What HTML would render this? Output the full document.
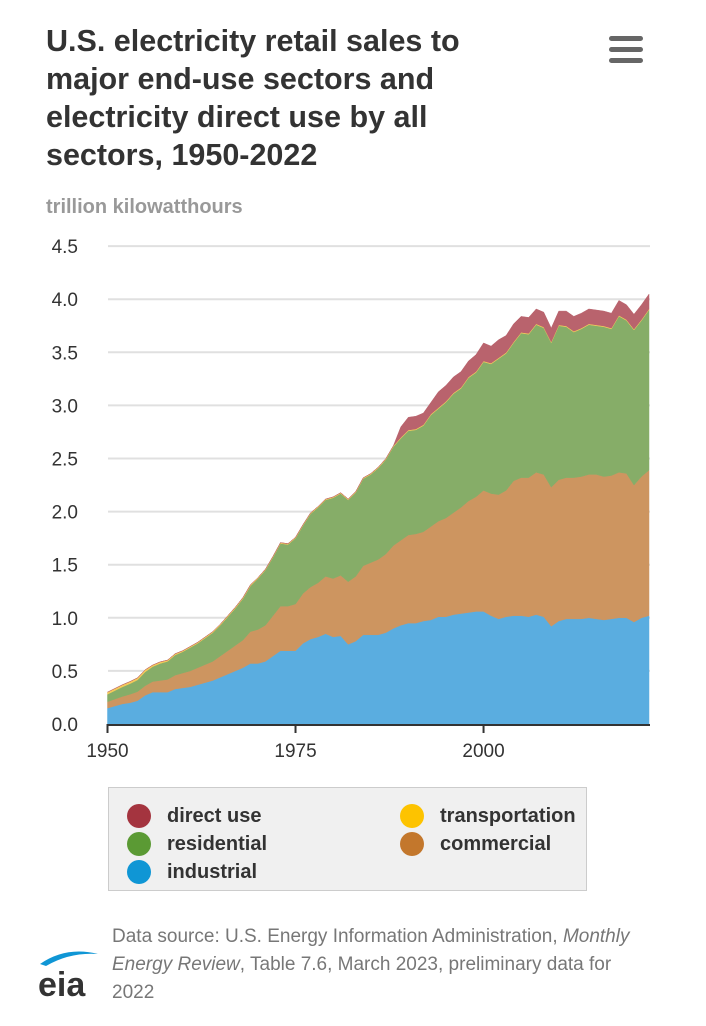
<!DOCTYPE html>
<html><head><meta charset="utf-8"><style>
body{margin:0;width:706px;height:1026px;background:#fff;font-family:"Liberation Sans",sans-serif;position:relative;overflow:hidden}
#title{position:absolute;left:46px;top:22px;font-size:30.5px;font-weight:bold;line-height:38px;color:#333;white-space:nowrap}
#sub{position:absolute;left:46px;top:196px;font-size:20px;font-weight:bold;color:#999}
#menu{position:absolute;left:609px;top:36px;width:34px;height:28px}
#menu div{height:5px;background:#666;border-radius:3px;margin-bottom:6px}
#legend{position:absolute;left:108px;top:787px;width:479px;height:104px;background:#f0f0f0;border:1px solid #ccc;box-sizing:border-box}
.li{position:absolute;font-size:20px;font-weight:bold;color:#333}
.li span{position:absolute;left:-40px;top:-1px;width:24px;height:24px;border-radius:50%}
#src{position:absolute;left:112px;top:923px;font-size:19px;line-height:28px;color:#777;white-space:nowrap}
</style></head><body>
<div id="title">U.S. electricity retail sales to<br>major end-use sectors and<br>electricity direct use by all<br>sectors, 1950-2022</div>
<div id="sub">trillion kilowatthours</div>
<div id="menu"><div></div><div></div><div></div></div>
<svg id="chart" width="706" height="780" style="position:absolute;left:0;top:0"></svg>
<div id="legend">
<div class="li" style="left:58px;top:17px"><span style="background:#a4343f"></span>direct use</div>
<div class="li" style="left:331px;top:17px"><span style="background:#fdc300"></span>transportation</div>
<div class="li" style="left:58px;top:45px"><span style="background:#5b9a34"></span>residential</div>
<div class="li" style="left:331px;top:45px"><span style="background:#c3772c"></span>commercial</div>
<div class="li" style="left:58px;top:73px"><span style="background:#0f96d5"></span>industrial</div>
</div>
<div id="src">Data source: U.S. Energy Information Administration, <i>Monthly</i><br><i>Energy Review</i>, Table 7.6, March 2023, preliminary data for<br>2022</div>
<svg width="70" height="60" style="position:absolute;left:36px;top:946px">
<path d="M4 18 Q30 0 62 8 Q34 6 10 20Z" fill="#0f96d5"/>
<text x="2" y="50" font-family="Liberation Sans,sans-serif" font-size="34" font-weight="bold" fill="#333">eia</text>
</svg>
<script>
const years=[];for(let y=1950;y<=2022;y++)years.push(y);
const industrial=[.15,.17,.19,.20,.22,.27,.30,.30,.30,.33,.34,.35,.37,.39,.41,.44,.47,.50,.53,.57,.57,.59,.64,.69,.69,.69,.76,.80,.82,.85,.82,.83,.75,.78,.84,.84,.84,.86,.90,.93,.95,.95,.97,.98,1.01,1.01,1.03,1.04,1.05,1.06,1.06,1.02,.99,1.01,1.02,1.02,1.01,1.03,1.01,.92,.97,.99,.99,.99,1.00,.99,.98,.99,1.00,1.00,.96,1.00,1.02];
const commercial=[.06,.065,.07,.08,.085,.09,.10,.11,.12,.13,.14,.15,.16,.17,.18,.20,.22,.24,.26,.30,.32,.34,.38,.42,.42,.44,.47,.49,.51,.54,.55,.57,.59,.61,.65,.68,.71,.74,.78,.80,.83,.84,.84,.88,.90,.93,.96,1.00,1.05,1.08,1.14,1.15,1.17,1.19,1.27,1.30,1.31,1.34,1.34,1.31,1.33,1.33,1.33,1.34,1.35,1.36,1.35,1.35,1.37,1.36,1.29,1.33,1.37];
const residential=[.07,.08,.09,.10,.11,.13,.14,.16,.17,.19,.20,.22,.23,.25,.27,.29,.32,.35,.39,.43,.48,.52,.55,.59,.58,.62,.64,.69,.71,.72,.76,.77,.77,.79,.82,.83,.86,.89,.93,.96,.98,.98,1.00,1.05,1.06,1.09,1.12,1.12,1.16,1.17,1.21,1.22,1.28,1.29,1.30,1.36,1.35,1.39,1.38,1.36,1.45,1.42,1.37,1.39,1.41,1.40,1.41,1.38,1.47,1.44,1.46,1.47,1.51];
const transportation=[.02,.02,.02,.02,.02,.02,.015,.015,.012,.012,.01,.01,.01,.01,.01,.01,.01,.01,.01,.01,.008,.008,.008,.008,.008,.008,.008,.008,.008,.008,.008,.008,.008,.008,.008,.008,.008,.008,.008,.008,.008,.008,.008,.008,.008,.008,.008,.008,.008,.008,.008,.008,.008,.008,.008,.008,.008,.008,.008,.008,.008,.008,.008,.008,.008,.008,.008,.008,.008,.008,.008,.008,.008];
const directUse=[0,0,0,0,0,0,0,0,0,0,0,0,0,0,0,0,0,0,0,0,0,0,0,0,0,0,0,0,0,0,0,0,0,0,0,0,0,0,0,.10,.12,.12,.11,.11,.15,.15,.15,.15,.15,.16,.17,.16,.17,.16,.17,.15,.15,.14,.14,.13,.13,.14,.14,.14,.14,.14,.14,.14,.14,.14,.14,.14,.14];
const yTicks=[0,0.5,1,1.5,2,2.5,3,3.5,4,4.5];
const xTicks=[1950,1975,2000];
const NS="http://www.w3.org/2000/svg",svg=document.getElementById('chart');
const x=v=>107.5+(v-1950)*(541.5/72), y=v=>724-v*106.2;
function mk(t,a){const e=document.createElementNS(NS,t);for(const k in a)e.setAttribute(k,a[k]);svg.appendChild(e);return e;}
yTicks.forEach(t=>{
 if(t>0){const g=mk('line',{x1:108,x2:650,y1:y(t),y2:y(t),stroke:'#e0e0e0','stroke-width':2});
 
 }
 const l=mk('text',{x:78,y:y(t)+7,'text-anchor':'end','font-size':19,fill:'#333','font-family':'Liberation Sans,sans-serif'});
 l.textContent=t.toFixed(1);
 
 
});
const series=[[industrial,'#5aade0','industrial'],[commercial,'#cd9560','commercial'],[residential,'#86ad68','residential'],[transportation,'#f4c95a','transportation'],[directUse,'#b9636d','direct-use']];
let base=years.map(()=>0);
series.forEach(([vals,col,nm])=>{
 const top=base.map((b,i)=>b+vals[i]);
 let d='M'+years.map((yr,i)=>x(yr)+','+y(top[i])).join('L');
 for(let i=years.length-1;i>=0;i--)d+='L'+x(years[i])+','+y(base[i]);
 const p=mk('path',{d:d+'Z',fill:col,stroke:col,'stroke-width':0.5});
 
 
 base=top;
});
const ax=mk('line',{x1:107,x2:650,y1:725,y2:725,stroke:'#333','stroke-width':2});


xTicks.forEach(t=>{
 const tk=mk('line',{x1:x(t),x2:x(t),y1:724,y2:733,stroke:'#333','stroke-width':2});
 
 
 const l=mk('text',{x:x(t),y:757,'text-anchor':'middle','font-size':19,fill:'#333','font-family':'Liberation Sans,sans-serif'});
 l.textContent=t;
 
 
});
</script>
</body></html>
